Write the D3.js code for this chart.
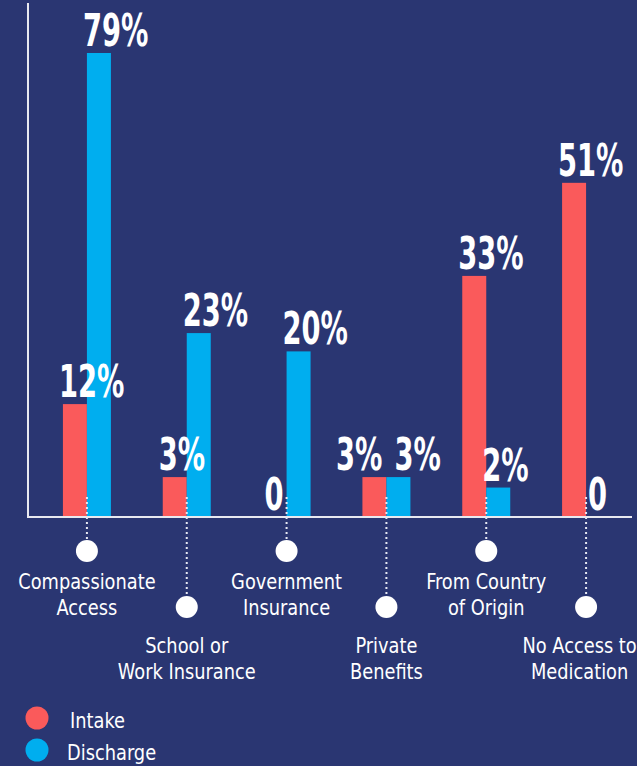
<!DOCTYPE html>
<html>
<head>
<meta charset="utf-8">
<script src="https://cdn.jsdelivr.net/npm/d3@7"></script>
<style>
  html, body { margin: 0; padding: 0; background: #2a3672; }
  svg { display: block; }
</style>
</head>
<body>
<svg id="chart" width="637" height="766"></svg>
<script>
// Where patients get their medication, at intake and at discharge (percent)
const categories = [
  ["Compassionate", "Access"],
  ["School or", "Work Insurance"],
  ["Government", "Insurance"],
  ["Private", "Benefits"],
  ["From Country", "of Origin"],
  ["No Access to", "Medication"]
];
const seriesNames = ["Intake", "Discharge"];
const intake    = [12, 3, 0, 3, 33, 51];
const discharge = [79, 23, 20, 3, 2, 0];

const W = 637, H = 766;
const colors = { Intake: "#fa5a5b", Discharge: "#00aeef" };
const bg = "#2a3672";
const axisX = 28, baseY = 517, topY = 53;

const svg = d3.select("#chart");
svg.append("rect").attr("width", W).attr("height", H).attr("fill", bg);

const keys = categories.map(c => c.join(" "));
const x = d3.scaleBand().domain(keys).range([37, 636]).padding(0);
const barW = 24;
const xSub = d3.scaleBand().domain(seriesNames)
  .range([x.bandwidth() / 2 - barW, x.bandwidth() / 2 + barW]).padding(0);

const maxV = d3.max(intake.concat(discharge));
const y = d3.scalePow().exponent(0.75).domain([0, maxV]).range([baseY, topY]);

const rows = keys.map((k, i) => ({
  key: k, lines: categories[i], idx: i,
  values: [
    { series: "Intake", value: intake[i] },
    { series: "Discharge", value: discharge[i] }
  ]
}));

// dotted connectors from the bars down to the category markers
const upper = i => i % 2 === 0;
const markerY = i => upper(i) ? 551 : 607;
const markerR = 11;
const dotted = sel => sel
  .attr("stroke", "#e6e8f2")
  .attr("stroke-width", 2)
  .attr("stroke-dasharray", "2,3");

svg.append("g").selectAll("line").data(rows).join("line")
  .attr("x1", d => x(d.key) + x.bandwidth() / 2)
  .attr("x2", d => x(d.key) + x.bandwidth() / 2)
  .attr("y1", baseY)
  .attr("y2", d => markerY(d.idx) - markerR)
  .call(dotted);

// bars
const groups = svg.append("g").selectAll("g").data(rows).join("g")
  .attr("transform", d => `translate(${x(d.key)},0)`);

groups.selectAll("rect").data(d => d.values).join("rect")
  .attr("x", d => xSub(d.series))
  .attr("width", xSub.bandwidth())
  .attr("y", d => y(d.value))
  .attr("height", d => baseY - y(d.value))
  .attr("fill", d => colors[d.series]);

// connector continues a little way up between the two bars
svg.append("g").selectAll("line").data(rows).join("line")
  .attr("x1", d => x(d.key) + x.bandwidth() / 2)
  .attr("x2", d => x(d.key) + x.bandwidth() / 2)
  .attr("y1", baseY - 20)
  .attr("y2", baseY)
  .call(dotted);

// axes
svg.append("line").attr("x1", axisX).attr("x2", axisX).attr("y1", 3).attr("y2", baseY + 1)
  .attr("stroke", "#e8e9f0").attr("stroke-width", 2);
svg.append("line").attr("x1", axisX - 1).attr("x2", 632).attr("y1", baseY).attr("y2", baseY)
  .attr("stroke", "#e8e9f0").attr("stroke-width", 2);

// value labels (bold, narrowed horizontally)
const valueFont = "'DejaVu Sans Condensed', 'DejaVu Sans', sans-serif";
const valSX = 0.69;
groups.each(function (row) {
  const g = d3.select(this);
  const pos = row.values.map(d => ({
    x: d.value === 0 ? xSub(d.series) + 2 : xSub(d.series) - 4,
    y: y(d.value) - 7,
    anchor: "start"
  }));
  const [a, b] = row.values;
  if (a.value > 0 && b.value > 0 && Math.abs(y(a.value) - y(b.value)) < 30) {
    // two labels on the same line: push them to either side of the bar pair
    const mid = x.bandwidth() / 2;
    pos[0].x = mid - 4; pos[0].anchor = "end";
    pos[1].x = mid + 8;
  }
  g.selectAll("text.val").data(row.values).join("text")
    .attr("class", "val")
    .attr("transform", (d, i) => `translate(${pos[i].x},${pos[i].y}) scale(${valSX},1)`)
    .attr("text-anchor", (d, i) => pos[i].anchor)
    .attr("fill", "#ffffff")
    .attr("font-family", valueFont)
    .attr("font-weight", "bold")
    .attr("font-size", 44)
    .text(d => d.value === 0 ? "0" : d.value + "%");
});

// category markers and labels
const catFont = "'DejaVu Sans Condensed', 'DejaVu Sans', sans-serif";
const catSX = 0.9;
const cats = svg.append("g").selectAll("g").data(rows).join("g")
  .attr("transform", d => `translate(${x(d.key) + x.bandwidth() / 2},0)`);
cats.append("circle").attr("cy", d => markerY(d.idx)).attr("r", markerR).attr("fill", "#ffffff");
const catText = cats.append("g").attr("class", "cat-label");
catText.append("text")
  .attr("text-anchor", "middle")
  .attr("fill", "#ffffff")
  .attr("font-family", catFont)
  .attr("font-size", 22)
  .attr("transform", `scale(${catSX},1)`)
  .selectAll("tspan").data(d => d.lines.map((t, j) => ({ t, j, i: d.idx }))).join("tspan")
  .attr("x", 0)
  .attr("y", d => (upper(d.i) ? 589 : 653) + d.j * 26)
  .text(d => d.t);

// keep labels inside the right edge
catText.each(function (d) {
  const bb = this.getBBox();
  const cx = x(d.key) + x.bandwidth() / 2;
  const right = cx + (bb.x + bb.width) * catSX;
  const shift = Math.min(0, (W - 6) - right);
  d3.select(this).attr("transform", `translate(${shift},0)`);
});

// legend
const legend = svg.append("g").selectAll("g").data(seriesNames).join("g")
  .attr("transform", (d, i) => `translate(37,${718 + i * 32})`);
legend.append("circle").attr("r", 11.5).attr("fill", d => colors[d]);
legend.append("text")
  .attr("transform", (d, i) => `translate(${i === 0 ? 33 : 30},10) scale(${catSX},1)`)
  .attr("fill", "#ffffff")
  .attr("font-family", catFont)
  .attr("font-size", 22)
  .text(d => d);
</script>
</body>
</html>
